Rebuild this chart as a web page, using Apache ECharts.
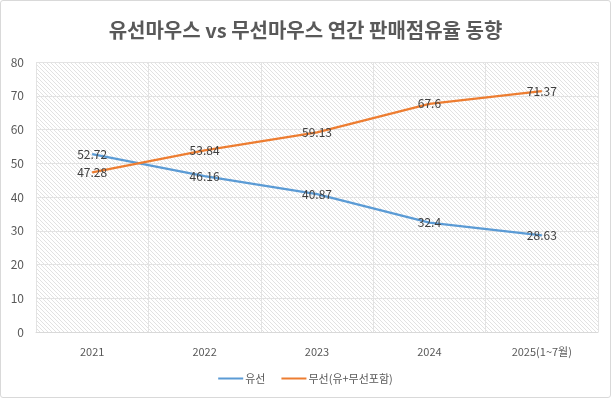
<!DOCTYPE html>
<html>
<head>
<meta charset="utf-8">
<script src="https://cdn.jsdelivr.net/npm/echarts@6/dist/echarts.min.js"></script>
<style>
  html, body { margin: 0; padding: 0; background: #fff; }
  #main { width: 609px; height: 396px; border: 1px solid #d9d9d9; border-radius: 3px; }
</style>
</head>
<body>
<div id="main"></div>
<script>
// 데이터
var years = ['2021', '2022', '2023', '2024', '2025(1~7월)'];
var wired = [52.72, 46.16, 40.87, 32.4, 28.63];
var wireless = [47.28, 53.84, 59.13, 67.6, 71.37];
var seriesNames = ['유선', '무선(유+무선포함)'];

// 빗금 배경 패턴
function makeHatch() {
  var c = document.createElement('canvas');
  c.width = 4; c.height = 4;
  var ctx = c.getContext('2d');
  ctx.fillStyle = '#ffffff';
  ctx.fillRect(0, 0, 4, 4);
  ctx.strokeStyle = '#e2e2e2';
  ctx.lineWidth = 1;
  ctx.beginPath();
  ctx.moveTo(0, 0); ctx.lineTo(4, 4);
  ctx.moveTo(-1, 3); ctx.lineTo(1, 5);
  ctx.moveTo(3, -1); ctx.lineTo(5, 1);
  ctx.stroke();
  return c;
}

var myChart = echarts.init(document.getElementById('main'));
var font = '"Noto Sans CJK KR", "Noto Sans", sans-serif';

var lbl = { show: true, position: 'inside', color: '#404040', fontSize: 12 };

var option = {
  animation: false,
  textStyle: { fontFamily: font },
  title: {
    text: '유선마우스 vs 무선마우스 연간 판매점유율 동향',
    left: 'center',
    top: 14,
    textStyle: { fontSize: 20, fontWeight: 'bold', color: '#595959', fontFamily: font }
  },
  legend: {
    data: seriesNames,
    bottom: 8,
    left: 'center',
    itemWidth: 25,
    itemHeight: 2,
    itemGap: 16,
    icon: 'rect',
    textStyle: { fontSize: 11, color: '#595959', padding: [0, 0, 0, -3] }
  },
  grid: {
    left: 35, right: 12, top: 61, bottom: 65,
    show: true,
    borderWidth: 0,
    backgroundColor: { image: makeHatch(), repeat: 'repeat' }
  },
  xAxis: {
    type: 'category',
    data: years,
    boundaryGap: true,
    axisLine: { lineStyle: { color: '#d9d9d9' } },
    axisTick: { show: false },
    axisLabel: { color: '#595959', fontSize: 11, margin: 14 },
    splitLine: { show: true, lineStyle: { color: '#e3e3e3' } }
  },
  yAxis: {
    type: 'value',
    min: 0, max: 80, interval: 10,
    axisLine: { show: false },
    axisTick: { show: false },
    axisLabel: { color: '#595959', fontSize: 12, margin: 12 },
    splitLine: { lineStyle: { color: '#e3e3e3' } }
  },
  series: [
    {
      name: seriesNames[0],
      type: 'line',
      data: wired,
      symbol: 'circle',
      symbolSize: 1,
      color: '#5b9bd5',
      itemStyle: { color: '#5b9bd5' },
      lineStyle: { width: 2.25, color: '#5b9bd5' },
      label: lbl
    },
    {
      name: seriesNames[1],
      type: 'line',
      data: wireless,
      symbol: 'circle',
      symbolSize: 1,
      color: '#ed7d31',
      itemStyle: { color: '#ed7d31' },
      lineStyle: { width: 2.25, color: '#ed7d31' },
      label: lbl
    }
  ]
};

myChart.setOption(option);
</script>
</body>
</html>
